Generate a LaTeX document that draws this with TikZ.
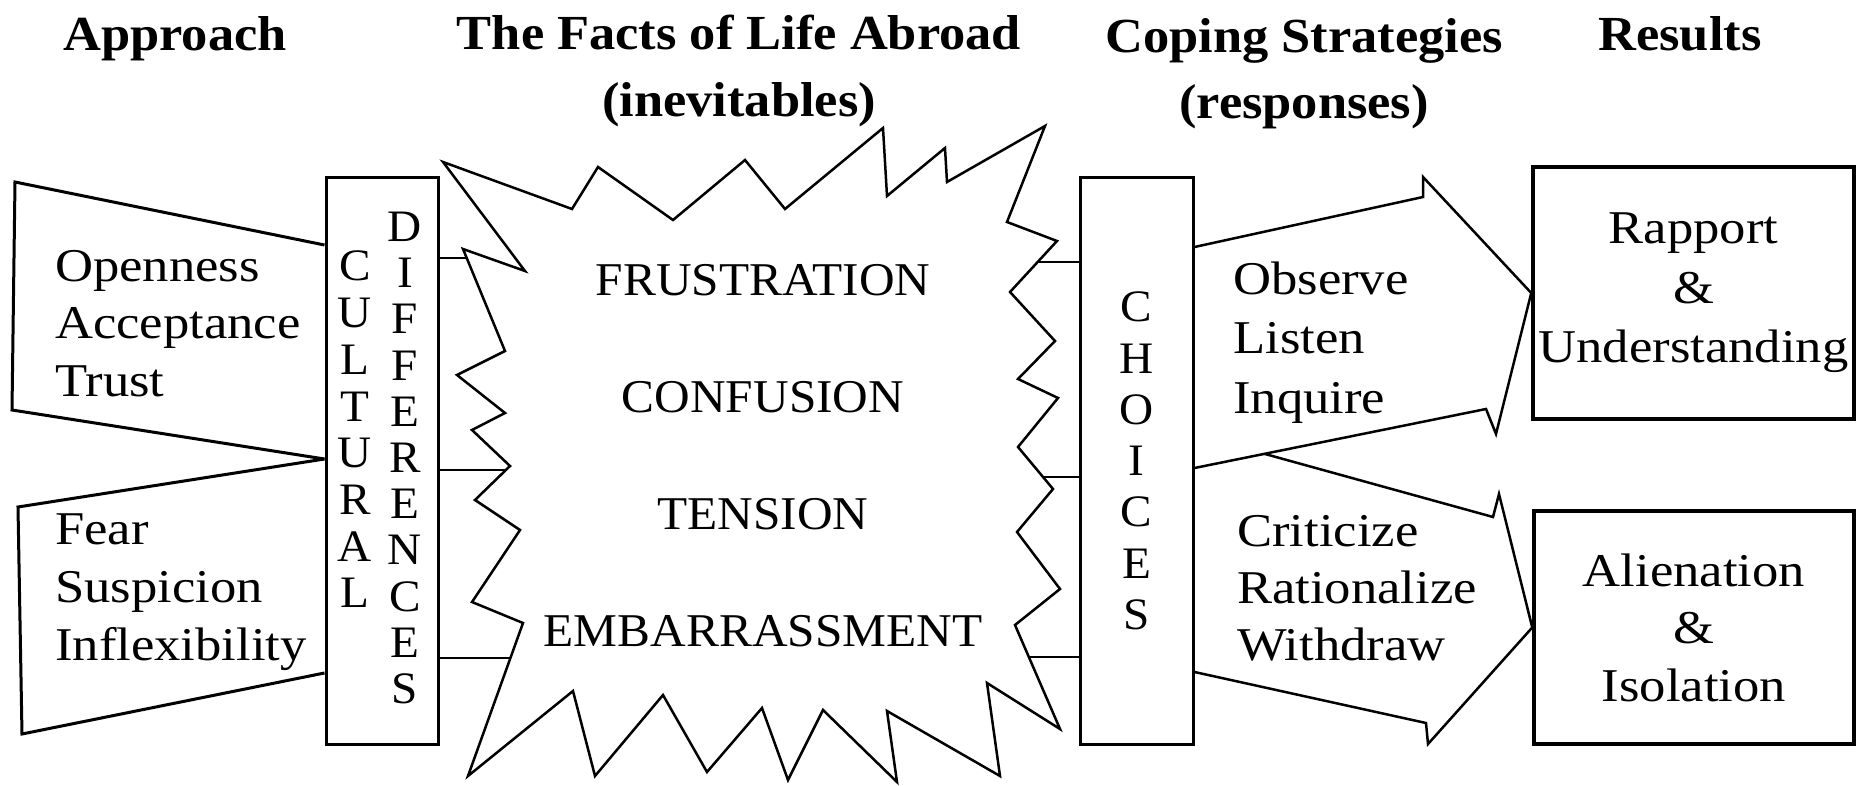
\documentclass[tikz,border=0pt]{standalone}
\usepackage{fontspec}
\setmainfont{Liberation Serif}
\newfontfamily\bodyfont{Liberation Serif}[FakeStretch=1.12]
\newfontfamily\capsfont{Liberation Serif}[FakeStretch=1.05]
\newfontfamily\titlefont{Liberation Serif}[FakeStretch=1.07]
\usetikzlibrary{calc}
\tikzset{
  box/.style={draw, line width=3pt, inner sep=0pt},
  resbox/.style={draw, line width=3.5pt, inner sep=0pt},
  edge/.style={line width=2.5pt, line join=miter},
  funnel/.style={line width=3pt, line join=miter},
  body/.style={font=\bodyfont\fontsize{47}{#1}\selectfont, inner sep=0pt},
  caps/.style={font=\capsfont\fontsize{47}{#1}\selectfont, inner sep=0pt},
  letters/.style={font=\capsfont\fontsize{45}{#1}\selectfont, inner sep=0pt, align=center},
  title/.style={font=\titlefont\bfseries\fontsize{49}{#1}\selectfont, inner sep=0pt},
  title/.default=67
}
\begin{document}
\begin{tikzpicture}[x=1pt, y=-1pt]
\fill[white] (0,0) rectangle (1866,786);
\useasboundingbox (0,0) rectangle (1866,786);

% titles
\node[title, anchor=base] (tApp) at (175,51) {Approach};
\node[title=67, align=center] (tFacts) at (739,71) {The Facts of Life Abroad\\(inevitables)};
\node[title=66, align=center] (tCope) at (1304,74) {Coping Strategies\\(responses)};
\node[title, anchor=base] (tRes) at (1680,51) {Results};

% boxes
\node[box, minimum width=112pt, minimum height=566pt] (cult) at (382,461) {};
\node[letters=46.7] (cultural) at (355,429.5) {C\\U\\L\\T\\U\\R\\A\\L};
\node[letters=46.2] (differences) at (405,458) {D\\I\\F\\F\\E\\R\\E\\N\\C\\E\\S};
\node[box, minimum width=113pt, minimum height=566pt, letters=51.3] (choices) at (1136.5,461) {C\\H\\O\\I\\C\\E\\S};
\node[resbox, minimum width=321pt, minimum height=252pt, body=59.5, align=center] (rapport) at (1693.5,293) {Rapport\\\&\\Understanding};
\node[resbox, minimum width=320pt, minimum height=233pt, body=57.5, align=center] (alien) at (1694,627.5) {Alienation\\\&\\Isolation};

% left funnels
\coordinate (fa1) at (15,182);
\coordinate (fa2) at (12,410);
\coordinate (fb1) at (18,507);
\coordinate (fb2) at (22,734);
\draw[funnel] (cult.west |- 0,245) -- (fa1) -- (fa2) -- (cult.west |- 0,459);
\draw[funnel] (cult.west |- 0,459) -- (fb1) -- (fb2) -- (cult.west |- 0,673);
\node[body=57.5, anchor=west, align=left] (open) at (55,323.6) {Openness\\Acceptance\\Trust};
\node[body=58, anchor=west, align=left] (fear) at (55,592.5) {Fear\\Suspicion\\Inflexibility};

% starburst
\draw[edge] (443,162) -- (572,209) -- (598,167) -- (673,220) -- (745,160) -- (785,209)
  -- (883,128) -- (887,196) -- (945,148) -- (947,182) -- (1045,126) -- (1007,222)
  -- (1057,241) -- (1010,292) -- (1055,341) -- (1018,379) -- (1058,398) -- (1018,447)
  -- (1053,489) -- (1017,532) -- (1060,589) -- (1015,625) -- (1060,729) -- (987,683)
  -- (1000,776) -- (887,711) -- (897,782) -- (823,710) -- (788,780) -- (762,708)
  -- (707,772) -- (663,695) -- (595,776) -- (573,691) -- (468,776) -- (523,623)
  -- (472,602) -- (520,530) -- (475,500) -- (510,466) -- (472,430) -- (505,413)
  -- (457,375) -- (505,351) -- (463,249) -- (525,271) -- cycle;
\node[caps=117, align=center] (facts) at (763,456) {FRUSTRATION\\CONFUSION\\TENSION\\EMBARRASSMENT};

% connectors box -> starburst -> choices
\coordinate (sL1) at (467,258);
\coordinate (sL2) at (506,470);
\coordinate (sL3) at (510,658);
\coordinate (sR1) at (1038,262);
\coordinate (sR2) at (1043,477);
\coordinate (sR3) at (1029,657);
\draw[edge] (cult.east |- sL1) -- (sL1);
\draw[edge] (cult.east |- sL2) -- (sL2);
\draw[edge] (cult.east |- sL3) -- (sL3);
\draw[edge] (sR1) -- (choices.west |- sR1);
\draw[edge] (sR2) -- (choices.west |- sR2);
\draw[edge] (sR3) -- (choices.west |- sR3);

% right arrows
\coordinate (a1) at (choices.east |- 0,247);
\coordinate (a2) at (1423,197);
\coordinate (a3) at (1423,177);
\coordinate (a4) at (1496,434);
\coordinate (a5) at (1486,409);
\coordinate (a6) at (choices.east |- 0,468);
\draw[edge] (a1) -- (a2) -- (a3) -- (rapport.west) -- (a4) -- (a5) -- (a6);
\coordinate (b1) at ($(a6)!0.24!(a5)$);
\coordinate (b2) at (1493,517);
\coordinate (b3) at (1499,494);
\coordinate (b4) at (1428,744);
\coordinate (b5) at (1426,723);
\coordinate (b6) at (choices.east |- 0,672);
\draw[edge] (b1) -- (b2) -- (b3) -- (alien.west) -- (b4) -- (b5) -- (b6);
\node[body=59.5, anchor=west, align=left] (observe) at (1233,342.6) {Observe\\Listen\\Inquire};
\node[body=57, anchor=west, align=left] (criticize) at (1237,588) {Criticize\\Rationalize\\Withdraw};
\end{tikzpicture}
\end{document}
